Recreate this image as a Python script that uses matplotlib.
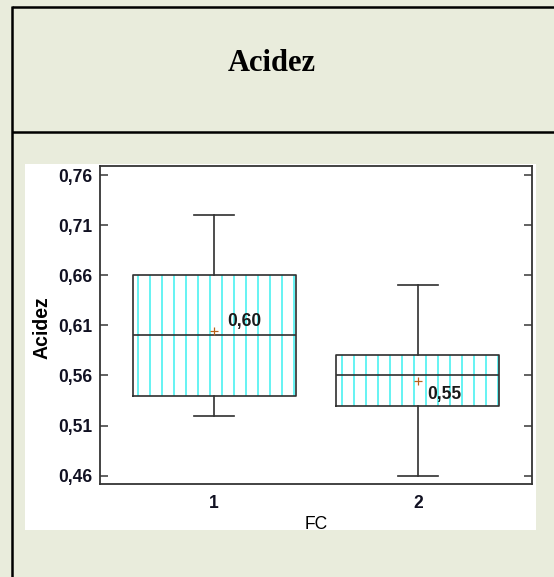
import matplotlib
matplotlib.use('Agg')
import matplotlib.pyplot as plt
from matplotlib.lines import Line2D
from matplotlib.patches import Rectangle
from matplotlib.ticker import FuncFormatter

# box plot summary for Acidez by FC
groups = ['1', '2']
q1 = [0.54, 0.53]
medians = [0.60, 0.56]
q3 = [0.66, 0.58]
whisk_lo = [0.52, 0.46]
whisk_hi = [0.72, 0.65]
means = [0.604, 0.554]
yticks = [0.46, 0.51, 0.56, 0.61, 0.66, 0.71, 0.76]

W, H = 554, 577
plt.rcParams['font.family'] = ['Liberation Sans', 'DejaVu Sans']
plt.rcParams['hatch.linewidth'] = 1.3

fig = plt.figure(figsize=(W / 72, H / 72), dpi=72, facecolor='#e9ecdc')


def fx(px):
    return px / W


def fy(py):
    return 1 - py / H


# table frame around the chart
fig.add_artist(Line2D([fx(12), 1], [fy(7), fy(7)], color='black', lw=2.5,
                      solid_capstyle='butt'))
fig.add_artist(Line2D([fx(12), fx(12)], [fy(6), 0], color='black', lw=2.5,
                      solid_capstyle='butt'))
fig.add_artist(Line2D([fx(12), 1], [fy(132), fy(132)], color='black', lw=2.5,
                      solid_capstyle='butt'))
fig.text(fx(272), fy(71), 'Acidez', family='Liberation Serif', weight='bold',
         size=30.5, ha='center', va='baseline')

# white picture panel
fig.add_artist(Rectangle((fx(25), fy(530)), fx(536) - fx(25), fy(164) - fy(530),
                         facecolor='white', edgecolor='none', zorder=-1))

ax = fig.add_axes([fx(100), fy(484), fx(532) - fx(100), fy(166) - fy(484)])
ax.set_facecolor('white')

pos = [1, 2]
heights = [b - a for a, b in zip(q1, q3)]
ax.bar(pos, heights, bottom=q1, width=0.8, color='none', edgecolor='#18eeee',
       hatch='|', linewidth=0, zorder=1)

stats = []
for g, a, m, b, lo, hi, mu in zip(groups, q1, medians, q3, whisk_lo, whisk_hi, means):
    stats.append(dict(label=g, q1=a, med=m, q3=b, whislo=lo, whishi=hi, mean=mu, fliers=[]))

line = dict(color='#333333', linewidth=1.7)
ax.bxp(stats, positions=pos, widths=0.8, capwidths=0.2, showmeans=True,
       showfliers=False, boxprops=line, whiskerprops=line, capprops=line,
       medianprops=line,
       meanprops=dict(marker='+', markeredgecolor='#b8621b', markersize=8,
                      markeredgewidth=1.2))

fmt = lambda v: f'{v:.2f}'.replace('.', ',')
offsets = [(13, 10), (9, -13)]
for x, mu, off in zip(pos, means, offsets):
    ax.annotate(fmt(mu), (x, mu), xytext=off, textcoords='offset points',
                ha='left', va='center', fontsize=17.5, fontweight='bold',
                color='#1a1a1a')

ax.set_xlim(0.44, 2.56)
ax.set_ylim(0.4517, 0.769)
ax.set_yticks(yticks)
ax.yaxis.set_major_formatter(FuncFormatter(lambda v, p: fmt(v)))
ax.tick_params(axis='y', direction='in', length=8, width=1.5, color='#333333',
               left=True, right=True, labelsize=17.5, pad=8, labelcolor='#111122')
ax.tick_params(axis='x', length=0, pad=11, labelsize=17.5, labelcolor='#111122')
for lbl in ax.get_xticklabels() + ax.get_yticklabels():
    lbl.set_fontweight('bold')
for s in ax.spines.values():
    s.set_linewidth(1.8)
    s.set_color('#333333')

ax.set_ylabel('Acidez', fontsize=19.5, fontweight='bold')
ax.yaxis.set_label_coords(-0.113, 0.492)
ax.set_xlabel('FC', fontsize=17.5)
ax.xaxis.label.set_va('baseline')
ax.xaxis.set_label_coords(0.5, -0.1415)

fig.savefig('out.png', dpi=72, facecolor=fig.get_facecolor())
